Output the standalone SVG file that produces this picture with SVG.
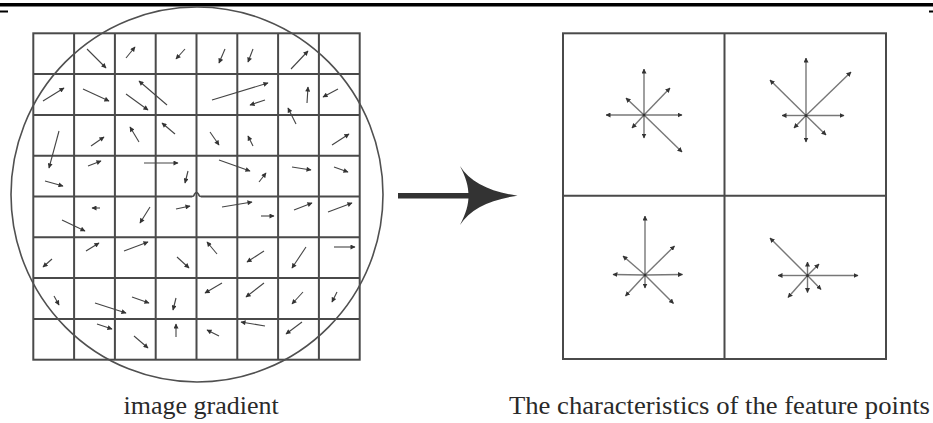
<svg xmlns="http://www.w3.org/2000/svg" width="933" height="423" viewBox="0 0 933 423">
<style>
.grid{fill:none;stroke:#4a4a4a;stroke-width:2}
.circ{fill:none;stroke:#505050;stroke-width:1.6}
.g line{stroke:#444;stroke-width:1.1;marker-end:url(#ah)}
.s line{stroke:#777;stroke-width:1.4;marker-end:url(#sh)}
.lbl{font-family:"Liberation Serif","Times New Roman",serif;font-size:26px;fill:#2a2a2a}
</style>
<defs>
<marker id="ah" viewBox="0 0 10 10" refX="9" refY="5" markerWidth="6" markerHeight="5" markerUnits="userSpaceOnUse" orient="auto"><path d="M0,0 L10,5 L0,10 z" fill="#333"/></marker>
<marker id="sh" viewBox="0 0 10 10" refX="9" refY="5" markerWidth="5" markerHeight="5" markerUnits="userSpaceOnUse" orient="auto"><path d="M0,0 L10,5 L0,10 z" fill="#333"/></marker>
</defs>
<rect width="933" height="423" fill="#fff"/>
<rect x="0" y="3" width="933" height="3.5" fill="#000"/>
<rect x="0" y="10.5" width="8" height="2" fill="#000"/>
<rect x="929" y="10.5" width="4" height="2" fill="#000"/>

<g id="gradient-grid">
<rect class="grid" x="33.3" y="33.3" width="326.4" height="326.4"/>
<path class="grid" d="M74.1,33.3V359.7M114.9,33.3V359.7M155.7,33.3V359.7M196.5,33.3V359.7M237.3,33.3V359.7M278.1,33.3V359.7M318.9,33.3V359.7M33.3,74.1H359.7M33.3,114.9H359.7M33.3,155.7H359.7M33.3,237.3H359.7M33.3,278.1H359.7M33.3,318.9H359.7M33.3,196.5H192M201,196.5H359.7"/>
<path d="M192,196.5 Q194,196.5 194.5,194.2 Q196.5,191 198.5,194.2 Q199,196.5 201,196.5" fill="none" stroke="#4a4a4a" stroke-width="1.6"/>
<ellipse class="circ" cx="197" cy="194.5" rx="186" ry="187.5"/>
<g class="g">
<line x1="87" y1="49" x2="106" y2="68"/>
<line x1="126" y1="58" x2="135" y2="47"/>
<line x1="185" y1="49" x2="176" y2="59"/>
<line x1="43" y1="101" x2="64" y2="88"/>
<line x1="83" y1="89" x2="109" y2="101"/>
<line x1="126" y1="94" x2="148" y2="110"/>
<line x1="167" y1="105" x2="139" y2="81"/>
<line x1="59" y1="131" x2="49" y2="168"/>
<line x1="91" y1="146" x2="104" y2="137"/>
<line x1="139" y1="142" x2="130" y2="127"/>
<line x1="175" y1="134" x2="162" y2="123"/>
<line x1="45" y1="181" x2="63" y2="186"/>
<line x1="88" y1="166" x2="101" y2="161"/>
<line x1="144" y1="163" x2="178" y2="163"/>
<line x1="188" y1="171" x2="185" y2="183"/>
<line x1="225" y1="49" x2="219" y2="63"/>
<line x1="253" y1="49" x2="248" y2="62"/>
<line x1="291" y1="69" x2="308" y2="51"/>
<line x1="212" y1="100" x2="268" y2="83"/>
<line x1="265" y1="100" x2="250" y2="105"/>
<line x1="307" y1="103" x2="308" y2="87"/>
<line x1="338" y1="89" x2="323" y2="97"/>
<line x1="296" y1="124" x2="288" y2="108"/>
<line x1="210" y1="132" x2="219" y2="145"/>
<line x1="253" y1="146" x2="248" y2="136"/>
<line x1="332" y1="145" x2="349" y2="134"/>
<line x1="219" y1="160" x2="250" y2="171"/>
<line x1="259" y1="182" x2="266" y2="173"/>
<line x1="292" y1="167" x2="311" y2="170"/>
<line x1="334" y1="167" x2="348" y2="172"/>
<line x1="100" y1="208" x2="92" y2="208"/>
<line x1="62" y1="220" x2="85" y2="231"/>
<line x1="150" y1="207" x2="140" y2="223"/>
<line x1="176" y1="209" x2="190" y2="206"/>
<line x1="52" y1="259" x2="43" y2="267"/>
<line x1="86" y1="251" x2="99" y2="243"/>
<line x1="124" y1="251" x2="148" y2="242"/>
<line x1="177" y1="257" x2="189" y2="268"/>
<line x1="54" y1="296" x2="59" y2="305"/>
<line x1="95" y1="303" x2="126" y2="313"/>
<line x1="132" y1="297" x2="149" y2="303"/>
<line x1="176" y1="298" x2="173" y2="310"/>
<line x1="97" y1="324" x2="112" y2="329"/>
<line x1="134" y1="336" x2="148" y2="348"/>
<line x1="176" y1="337" x2="176" y2="324"/>
<line x1="222" y1="207" x2="252" y2="202"/>
<line x1="261" y1="216" x2="274" y2="216"/>
<line x1="294" y1="210" x2="312" y2="203"/>
<line x1="328" y1="212" x2="352" y2="203"/>
<line x1="217" y1="254" x2="207" y2="242"/>
<line x1="264" y1="251" x2="247" y2="262"/>
<line x1="306" y1="247" x2="292" y2="268"/>
<line x1="334" y1="247" x2="355" y2="247"/>
<line x1="222" y1="283" x2="205" y2="293"/>
<line x1="264" y1="283" x2="246" y2="297"/>
<line x1="303" y1="292" x2="292" y2="304"/>
<line x1="337" y1="292" x2="332" y2="302"/>
<line x1="219" y1="336" x2="207" y2="330"/>
<line x1="265" y1="326" x2="241" y2="322"/>
<line x1="302" y1="322" x2="286" y2="334"/>
</g>
</g>

<g id="connectors">
<rect x="398" y="193" width="72" height="5.5" fill="#333"/>
<path d="M460,166 C470,182 490,192 517.5,195.7 C490,199.5 470,209 460,225 C466,213 468.5,205 468.5,195.7 C468.5,186 466,178 460,166 Z" fill="#333"/>
</g>

<g id="feature-grid">
<rect class="grid" x="563" y="33.3" width="323" height="325.7"/>
<path class="grid" d="M724.5,33.3V359M563,195.7H886"/>
</g>

<g id="star-tl" class="s">
<line x1="644" y1="115" x2="644" y2="69"/>
<line x1="644" y1="115" x2="644" y2="138"/>
<line x1="644" y1="115" x2="606" y2="115"/>
<line x1="644" y1="115" x2="682" y2="115"/>
<line x1="644" y1="115" x2="670" y2="88"/>
<line x1="644" y1="115" x2="626" y2="98"/>
<line x1="644" y1="115" x2="632" y2="128"/>
<line x1="644" y1="115" x2="682" y2="152"/>
<circle cx="644" cy="115" r="1.5" fill="#333"/>
</g>
<g id="star-tr" class="s">
<line x1="806" y1="115.5" x2="806" y2="58"/>
<line x1="806" y1="115.5" x2="806" y2="142"/>
<line x1="806" y1="115.5" x2="782" y2="115.5"/>
<line x1="806" y1="115.5" x2="844" y2="115.5"/>
<line x1="806" y1="115.5" x2="851" y2="72"/>
<line x1="806" y1="115.5" x2="770" y2="80"/>
<line x1="806" y1="115.5" x2="794" y2="128"/>
<line x1="806" y1="115.5" x2="826" y2="135"/>
<circle cx="806" cy="115.5" r="1.5" fill="#333"/>
</g>
<g id="star-bl" class="s">
<line x1="645" y1="275" x2="645" y2="216"/>
<line x1="645" y1="275" x2="645" y2="288"/>
<line x1="645" y1="275" x2="613" y2="274.5"/>
<line x1="645" y1="275" x2="682.5" y2="274.5"/>
<line x1="645" y1="275" x2="674.5" y2="246"/>
<line x1="645" y1="275" x2="623" y2="256"/>
<line x1="645" y1="275" x2="625.5" y2="296"/>
<line x1="645" y1="275" x2="673.5" y2="303.5"/>
<circle cx="645" cy="275" r="1.5" fill="#333"/>
</g>
<g id="star-br" class="s">
<line x1="807.5" y1="275.5" x2="807.5" y2="262"/>
<line x1="807.5" y1="275.5" x2="807.5" y2="292.5"/>
<line x1="807.5" y1="275.5" x2="778" y2="275.5"/>
<line x1="807.5" y1="275.5" x2="858" y2="275.5"/>
<line x1="807.5" y1="275.5" x2="819" y2="264"/>
<line x1="807.5" y1="275.5" x2="770" y2="238"/>
<line x1="807.5" y1="275.5" x2="788" y2="297.5"/>
<line x1="807.5" y1="275.5" x2="821" y2="289.5"/>
<circle cx="807.5" cy="275.5" r="1.5" fill="#333"/>
</g>

<g id="labels">
<text class="lbl" x="123.5" y="414">image gradient</text>
<text class="lbl" x="509" y="414" textLength="421" lengthAdjust="spacingAndGlyphs">The characteristics of the feature points</text>
</g>
</svg>
